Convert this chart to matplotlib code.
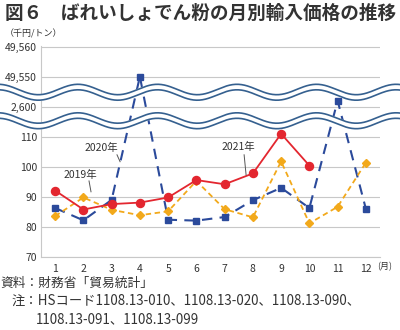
import numpy as np
import matplotlib
matplotlib.use("Agg")
import matplotlib.pyplot as plt

plt.rcParams['font.family'] = ['Noto Sans CJK JP', 'DejaVu Sans']

months = list(range(1, 13))
y2019 = [83.6, 89.8, 85.7, 83.9, 85.2, 95.3, 85.9, 83.2, 101.8, 81.2, 86.7, 101.4]
y2020 = [86.3, 82.2, 89.0, 49550, 82.4, 82.1, 83.3, 88.9, 93.0, 86.3, 2602, 86.0]
y2021 = [92.1, 85.8, 87.6, 88.1, 89.8, 95.6, 94.2, 97.8, 111.0, 100.4]
ytick_values = [70, 80, 90, 100, 110, 2600, 49550, 49560]
ytick_labels = ["70", "80", "90", "100", "110", "2,600", "49,550", "49,560"]

RED = "#e3262f"
ORANGE = "#f2a91b"
BLUE = "#2b4a9b"
WAVE = "#35608f"
TXT = "#333333"


def to_pos(v):
    """broken axis: three sections, each 10 units per gridline"""
    if v >= 40000:
        return 6 + (v - 49550) / 10
    if v >= 1000:
        return 5 + (v - 2600) / 10
    return (v - 70) / 10


fig = plt.figure(figsize=(4.0, 3.3), dpi=100)
ax = fig.add_axes([41 / 400, 1 - 257 / 330, 339 / 400, 211 / 330])

ax.plot(months, [to_pos(v) for v in y2020], color=BLUE, lw=1.5, ls=(0, (5, 3.5)),
        marker="s", ms=4.5, zorder=3)
ax.plot(months, [to_pos(v) for v in y2019], color=ORANGE, lw=1.3, ls=(0, (3, 2)),
        marker="D", ms=4, zorder=4)
ax.plot(months[:len(y2021)], [to_pos(v) for v in y2021], color=RED, lw=1.3,
        marker="o", ms=5.8, zorder=5)

ax.set_xlim(0.5, 12.5)
ax.set_ylim(0, 7.02)
ax.set_yticks([to_pos(v) for v in ytick_values])
ax.set_yticklabels(ytick_labels)
ax.set_xticks(months)
ax.set_xticklabels([str(m) for m in months])
ax.tick_params(axis="both", length=0, labelsize=7.5, colors=TXT)
ax.tick_params(axis="y", pad=3)
ax.tick_params(axis="x", pad=5)
ax.grid(axis="y", color="#c8c8c8", lw=0.8)
ax.set_axisbelow(True)
for s in ["top", "right"]:
    ax.spines[s].set_visible(False)
ax.spines["left"].set_color("#c8c8c8")
ax.spines["bottom"].set_color("#c8c8c8")
ax.text(12.4, -0.33, "(月)", fontsize=6.5, color=TXT, va="center", ha="left")

# series labels with leader lines
for label, txt_xy, p0, p1 in [("2020年", (2.62, 3.63), (3.19, 3.4), (3.30, 3.17)),
                              ("2019年", (1.88, 2.73), (2.20, 2.53), (2.27, 2.17)),
                              ("2021年", (7.47, 3.67), (7.69, 3.4), (7.76, 2.73))]:
    ax.text(*txt_xy, label, fontsize=7.5, color=TXT, ha="center", va="center", zorder=6)
    ax.plot([p0[0], p1[0]], [p0[1], p1[1]], color="#555555", lw=0.7, zorder=6)

# wave break marks drawn over everything, in pixel coords
ov = fig.add_axes([0, 0, 1, 1], facecolor="none")
ov.set_xlim(0, 400)
ov.set_ylim(330, 0)
ov.axis("off")
xs = np.linspace(0, 400, 400)
for yc in [89.5, 118.0]:
    upper = yc - 5.2 * np.cos(2 * np.pi * (xs - 78) / 79.5)
    lower = upper + 5.5
    ov.fill_between(xs, upper, lower, color="white", zorder=1)
    ov.plot(xs, upper, color=WAVE, lw=1.2, zorder=2)
    ov.plot(xs, lower, color=WAVE, lw=1.2, zorder=2)

fig.text(5 / 400, 1 - 13 / 330, "図６　ばれいしょでん粉の月別輸入価格の推移",
         fontsize=13.4, weight="bold", color=TXT, va="center", ha="left")
fig.text(5 / 400, 1 - 34 / 330, "（千円/トン）", fontsize=6.5, color=TXT, va="center", ha="left")

fig.text(0, 1 - 283 / 330, "資料：財務省「貿易統計」", fontsize=9.2, color=TXT,
         va="center", ha="left")
fig.text(12 / 400, 1 - 301 / 330, "注：HSコード1108.13-010、1108.13-020、1108.13-090、",
         fontsize=9.6, color=TXT, va="center", ha="left")
fig.text(36 / 400, 1 - 319 / 330, "1108.13-091、1108.13-099",
         fontsize=9.6, color=TXT, va="center", ha="left")

fig.savefig("out.png", dpi=100)
